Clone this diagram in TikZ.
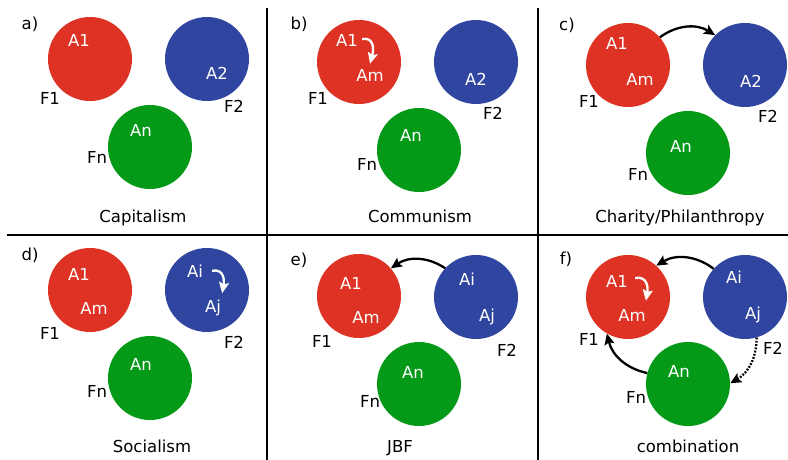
\documentclass[tikz,border=0pt]{standalone}
\usepackage{fontspec}
\setmainfont{DejaVu Sans}
\usetikzlibrary{arrows.meta}

\definecolor{firmred}{RGB}{221,50,36}
\definecolor{firmblue}{RGB}{47,69,160}
\definecolor{firmgreen}{RGB}{4,153,23}

\begin{document}
\begin{tikzpicture}[x=1pt,y=-1pt,
  disc/.style={circle, minimum size=84pt, inner sep=0pt},
  lbl/.style={anchor=base, inner sep=1pt, font=\fontsize{16.5}{19}\selectfont},
  inlbl/.style={lbl, text=white},
  flow/.style={line width=2.3pt, -{Stealth[length=11pt,width=10pt,inset=2pt]}},
  wflow/.style={flow, white},
  dotflow/.style={flow, dash pattern=on 1.8pt off 1.5pt},
  divider/.style={line width=1.3pt}
]
\useasboundingbox (0,0) rectangle (788,460);

% panel dividers
\draw[divider] (267,8) -- (267,460);
\draw[divider] (538,8) -- (538,460);
\draw[divider] (7,235) -- (788,235);

% ---- a) Capitalism
\node[disc, fill=firmred]   (a1) at (90,59) {};
\node[disc, fill=firmblue]  (a2) at (207,59) {};
\node[disc, fill=firmgreen] (an) at (150,147) {};
\node[lbl] (atag) at (30,30) {a)};
\node[inlbl] (aA1) at (79,47) {A1};
\node[inlbl] (aA2) at (217,80) {A2};
\node[inlbl] (aAn) at (141,136) {An};
\node[lbl] (aF1) at (50,105) {F1};
\node[lbl] (aF2) at (234,113) {F2};
\node[lbl] (aFn) at (97,164) {Fn};
\node[lbl] (atitle) at (143,222) {Capitalism};

% ---- b) Communism
\node[disc, fill=firmred]   (b1) at (359,62) {};
\node[disc, fill=firmblue]  (b2) at (476,62) {};
\node[disc, fill=firmgreen] (bn) at (419,150) {};
\node[lbl] (btag) at (299,30) {b)};
\node[inlbl] (bA1) at (347,47) {A1};
\node[inlbl] (bAm) at (370,82) {Am};
\node[inlbl] (bA2) at (476,86) {A2};
\node[inlbl] (bAn) at (411,142) {An};
\node[lbl] (bF1) at (318,105) {F1};
\node[lbl] (bF2) at (493,120) {F2};
\node[lbl] (bFn) at (367,170) {Fn};
\node[lbl] (btitle) at (420,222) {Communism};
\draw[wflow] ([xshift=3pt,yshift=2pt]bA1.east) to[out=10,in=75,looseness=1.3] ([yshift=5pt]bAm.north);

% ---- c) Charity/Philanthropy
\node[disc, fill=firmred]   (c1) at (628,65) {};
\node[disc, fill=firmblue]  (c2) at (745,65) {};
\node[disc, fill=firmgreen] (cn) at (688,153) {};
\node[lbl] (ctag) at (567,31) {c)};
\node[inlbl] (cA1) at (617,50) {A1};
\node[inlbl] (cAm) at (640,85) {Am};
\node[inlbl] (cA2) at (751,88) {A2};
\node[inlbl] (cAn) at (681,152) {An};
\node[lbl] (cF1) at (589,107) {F1};
\node[lbl] (cF2) at (768,122) {F2};
\node[lbl] (cFn) at (638,180) {Fn};
\node[lbl] (ctitle) at (680,222) {Charity/Philanthropy};
\draw[flow] (c1.41) to[bend left=34] (c2.135);

% ---- d) Socialism
\node[disc, fill=firmred]   (d1) at (90,290) {};
\node[disc, fill=firmblue]  (d2) at (207,290) {};
\node[disc, fill=firmgreen] (dn) at (150,378) {};
\node[lbl] (dtag) at (30,260) {d)};
\node[inlbl] (dA1) at (79,280) {A1};
\node[inlbl] (dAm) at (94,314) {Am};
\node[inlbl] (dAi) at (195,277) {Ai};
\node[inlbl] (dAj) at (213,312) {Aj};
\node[inlbl] (dAn) at (141,370) {An};
\node[lbl] (dF1) at (50,339) {F1};
\node[lbl] (dF2) at (234,348) {F2};
\node[lbl] (dFn) at (97,397) {Fn};
\node[lbl] (dtitle) at (152,452) {Socialism};
\draw[wflow] ([xshift=8pt]dAi.east) to[out=10,in=80,looseness=1.3] ([yshift=5pt]dAj.north east);

% ---- e) JBF
\node[disc, fill=firmred]   (e1) at (359,296) {};
\node[disc, fill=firmblue]  (e2) at (476,297) {};
\node[disc, fill=firmgreen] (en) at (419,384) {};
\node[lbl] (etag) at (299,265) {e)};
\node[inlbl] (eA1) at (351,289) {A1};
\node[inlbl] (eAm) at (366,323) {Am};
\node[inlbl] (eAi) at (467,285) {Ai};
\node[inlbl] (eAj) at (487,321) {Aj};
\node[inlbl] (eAn) at (413,378) {An};
\node[lbl] (eF1) at (322,347) {F1};
\node[lbl] (eF2) at (507,356) {F2};
\node[lbl] (eFn) at (370,407) {Fn};
\node[lbl] (etitle) at (400,452) {JBF};
\draw[flow] (e2.137) to[bend right=34] (e1.41);

% ---- f) combination
\node[disc, fill=firmred]   (f1) at (628,297) {};
\node[disc, fill=firmblue]  (f2) at (745,297) {};
\node[disc, fill=firmgreen] (fn) at (688,384) {};
\node[lbl] (ftag) at (566,264) {f)};
\node[inlbl] (fA1) at (617,287) {A1};
\node[inlbl] (fAm) at (632,321) {Am};
\node[inlbl] (fAi) at (734,283) {Ai};
\node[inlbl] (fAj) at (753,319) {Aj};
\node[inlbl] (fAn) at (679,377) {An};
\node[lbl] (fF1) at (589,345) {F1};
\node[lbl] (fF2) at (773,354) {F2};
\node[lbl] (fFn) at (636,403) {Fn};
\node[lbl] (ftitle) at (688,452) {combination};
\draw[wflow] ([xshift=6pt,yshift=3pt]fA1.east) to[out=10,in=80,looseness=1.3] ([xshift=-1pt,yshift=7pt]fAm.north east);
\draw[flow] (f2.138) to[bend right=34] (f1.48);
\draw[flow] (fn.165) to[bend left=32] (f1.240);
\draw[dotflow] (f2.286) to[bend left=30] (fn.1);
\end{tikzpicture}
\end{document}
